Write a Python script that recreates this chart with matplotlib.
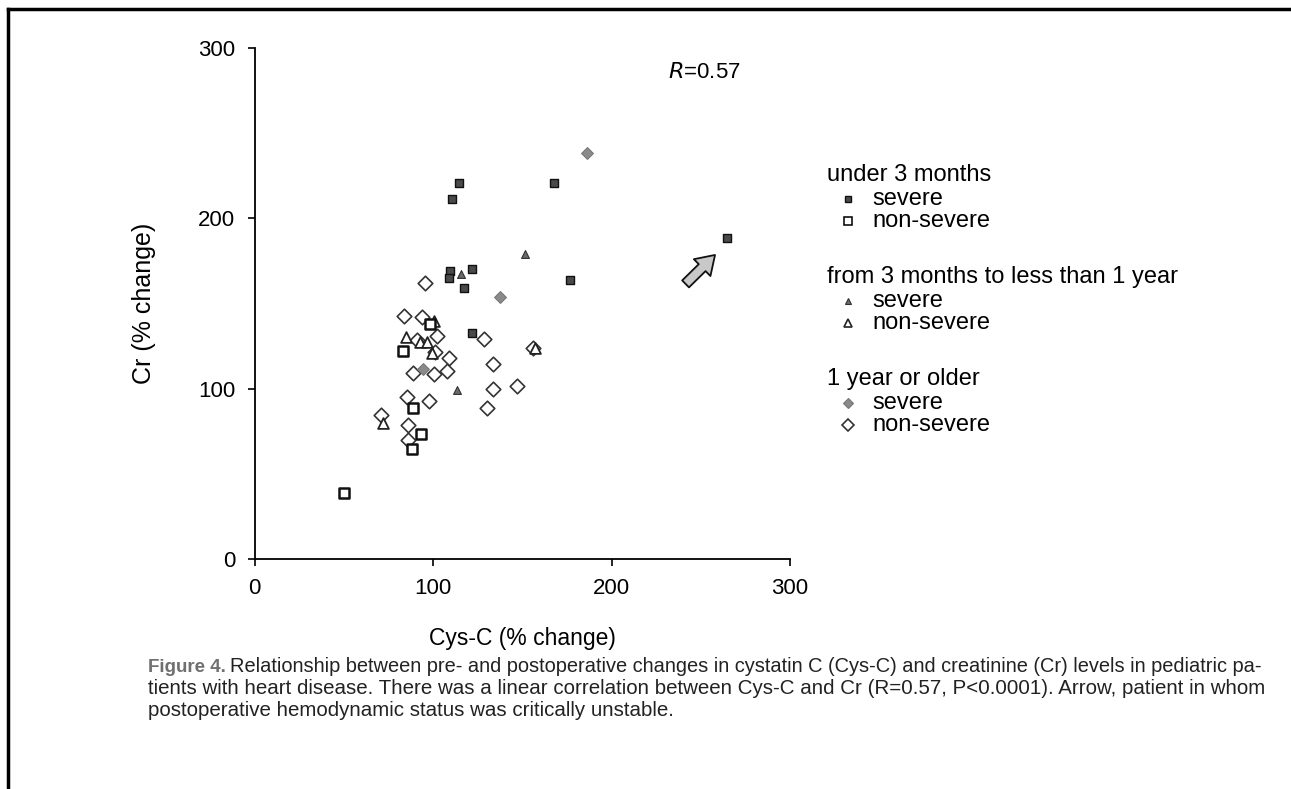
import matplotlib.pyplot as plt
from matplotlib.lines import Line2D

# % change values (Cys-C on x, Cr on y) by age group and severity
u3_severe_x = [114.7, 167.8, 110.6, 264.9, 109.5, 108.8, 121.7, 176.6, 117.5, 121.8]
u3_severe_y = [220.6, 220.6, 211.6, 188.7, 169.1, 165.2, 170.3, 163.8, 159.3, 132.5]

u3_mild_x = [98.5, 83.0, 89.0, 93.1, 88.1, 50.1]
u3_mild_y = [138.2, 122.3, 88.5, 73.4, 64.6, 38.6]

mid_severe_x = [151.7, 115.5, 113.3]
mid_severe_y = [179.1, 167.2, 99.2]

mid_mild_x = [84.9, 92.7, 96.8, 157.1, 99.3, 71.8, 100.5]
mid_mild_y = [130.2, 127.6, 127.6, 123.7, 120.8, 80.0, 139.5]

old_severe_x = [186.1, 137.5, 94.6]
old_severe_y = [238.2, 154.1, 111.4]

old_mild_x = [95.5, 83.9, 93.8, 90.9, 102.1, 128.6, 155.8, 101.1, 108.8, 133.4, 88.6,
              100.7, 107.7, 133.4, 146.9, 85.6, 97.9, 130.1, 70.7, 86.0, 86.0]
old_mild_y = [161.9, 142.7, 142.3, 128.6, 130.9, 129.4, 123.7, 121.7, 117.8, 114.5, 109.4,
              108.6, 110.6, 99.6, 101.6, 95.3, 93.0, 88.5, 84.6, 78.5, 69.9]

ticks = [0, 100, 200, 300]

group_titles = ['under 3 months', 'from 3 months to less than 1 year', '1 year or older']

caption_lines = [
    'Relationship between pre- and postoperative changes in cystatin C (Cys-C) and creatinine (Cr) levels in pediatric pa-',
    'tients with heart disease. There was a linear correlation between Cys-C and Cr (R=0.57, P<0.0001). Arrow, patient in whom',
    'postoperative hemodynamic status was critically unstable.',
]

plt.rcParams['font.family'] = ['Liberation Sans', 'DejaVu Sans']

W, H = 1291, 789
fig = plt.figure(figsize=(W / 100, H / 100), dpi=100)
ax = fig.add_axes([254.5 / W, 1 - 559 / H, (790 - 254.5) / W, (559 - 48) / H])

styles = {
    'u3_severe': dict(marker='s', s=40, facecolor='#4a4a4a', edgecolor='#111111', linewidths=1.0),
    'u3_mild': dict(marker='s', s=55, facecolor='white', edgecolor='#111111', linewidths=1.8),
    'mid_severe': dict(marker='^', s=32, facecolor='#6a6a6a', edgecolor='#333333', linewidths=0.8),
    'mid_mild': dict(marker='^', s=60, facecolor='white', edgecolor='#222222', linewidths=1.3),
    'old_severe': dict(marker='D', s=36, facecolor='#8a8a8a', edgecolor='#777777', linewidths=0.8),
    'old_mild': dict(marker='D', s=55, facecolor='white', edgecolor='#333333', linewidths=1.2),
}

ax.scatter(old_mild_x, old_mild_y, zorder=3, **styles['old_mild'])
ax.scatter(mid_mild_x, mid_mild_y, zorder=3, **styles['mid_mild'])
ax.scatter(u3_mild_x, u3_mild_y, zorder=3, **styles['u3_mild'])
ax.scatter(old_severe_x, old_severe_y, zorder=4, **styles['old_severe'])
ax.scatter(mid_severe_x, mid_severe_y, zorder=4, **styles['mid_severe'])
ax.scatter(u3_severe_x, u3_severe_y, zorder=4, **styles['u3_severe'])

ax.set_xlim(0, 300)
ax.set_ylim(0, 300)
ax.set_xticks(ticks)
ax.set_yticks(ticks)
for side in ['top', 'right']:
    ax.spines[side].set_visible(False)
for side in ['left', 'bottom']:
    ax.spines[side].set_linewidth(1.3)
ax.tick_params(direction='out', length=5, width=1.2, labelsize=16, pad=9)
ax.set_xlabel('Cys-C (% change)', fontsize=16.5, labelpad=20)
ax.set_ylabel('Cr (% change)', fontsize=18, labelpad=30)

ax.text(251.8, 285.4, r'$\mathit{R}$=0.57', fontsize=16, ha='center', va='center')

# block arrow for the unstable patient
ax.annotate('', xy=(258.0, 178.5), xytext=(241.5, 161.5),
            arrowprops=dict(arrowstyle='simple,head_width=0.85,head_length=0.65,tail_width=0.35',
                            mutation_scale=20, shrinkA=0, shrinkB=0,
                            fc='#c8c8c8', ec='#111111', lw=1.3))

# grouped legend drawn by hand
legend_keys = [('u3_severe', 'u3_mild'), ('mid_severe', 'mid_mild'), ('old_severe', 'old_mild')]
legend_sizes = {'u3_severe': 5, 'u3_mild': 6, 'mid_severe': 5, 'mid_mild': 6,
                'old_severe': 5, 'old_mild': 6}
header_y = [175, 277, 379]
for title, keys, hy in zip(group_titles, legend_keys, header_y):
    fig.text(827 / W, 1 - hy / H, title, fontsize=17, va='center', ha='left')
    for key, label, dy in zip(keys, ['severe', 'non-severe'], [24, 46]):
        st = styles[key]
        fig.add_artist(Line2D([848 / W], [1 - (hy + dy) / H], transform=fig.transFigure,
                              marker=st['marker'], linestyle='none',
                              markersize=legend_sizes[key], markerfacecolor=st['facecolor'],
                              markeredgecolor=st['edgecolor'],
                              markeredgewidth=min(st['linewidths'], 1.2)))
        fig.text(872 / W, 1 - (hy + dy) / H, label, fontsize=17, va='center', ha='left')

# caption: the first two lines are sized to end flush at 1262 px
fig.text(148 / W, 1 - 667 / H, 'Figure 4.', fontsize=13.5, fontweight='bold',
         color='#707070', va='center', ha='left')
cap_x = [230, 148, 148]
cap_y = [667, 689, 711]
renderer = fig.canvas.get_renderer()
cap_sizes = []
for line, cx in zip(caption_lines[:2], cap_x[:2]):
    probe = fig.text(0, 0, line, fontsize=13)
    cap_sizes.append(13 * (1262 - cx) / probe.get_window_extent(renderer).width)
    probe.remove()
cap_sizes.append(cap_sizes[1])
for line, cx, cy, fs in zip(caption_lines, cap_x, cap_y, cap_sizes):
    fig.text(cx / W, 1 - cy / H, line, fontsize=fs,
             color='#222222', va='center', ha='left')

# page frame
fig.add_artist(Line2D([8 / W, 8 / W], [0, 1 - 9 / H], transform=fig.transFigure,
                      color='black', lw=2.5))
fig.add_artist(Line2D([8 / W, 1], [1 - 9 / H, 1 - 9 / H], transform=fig.transFigure,
                      color='black', lw=2.5))

fig.savefig('out.png', dpi=100)
